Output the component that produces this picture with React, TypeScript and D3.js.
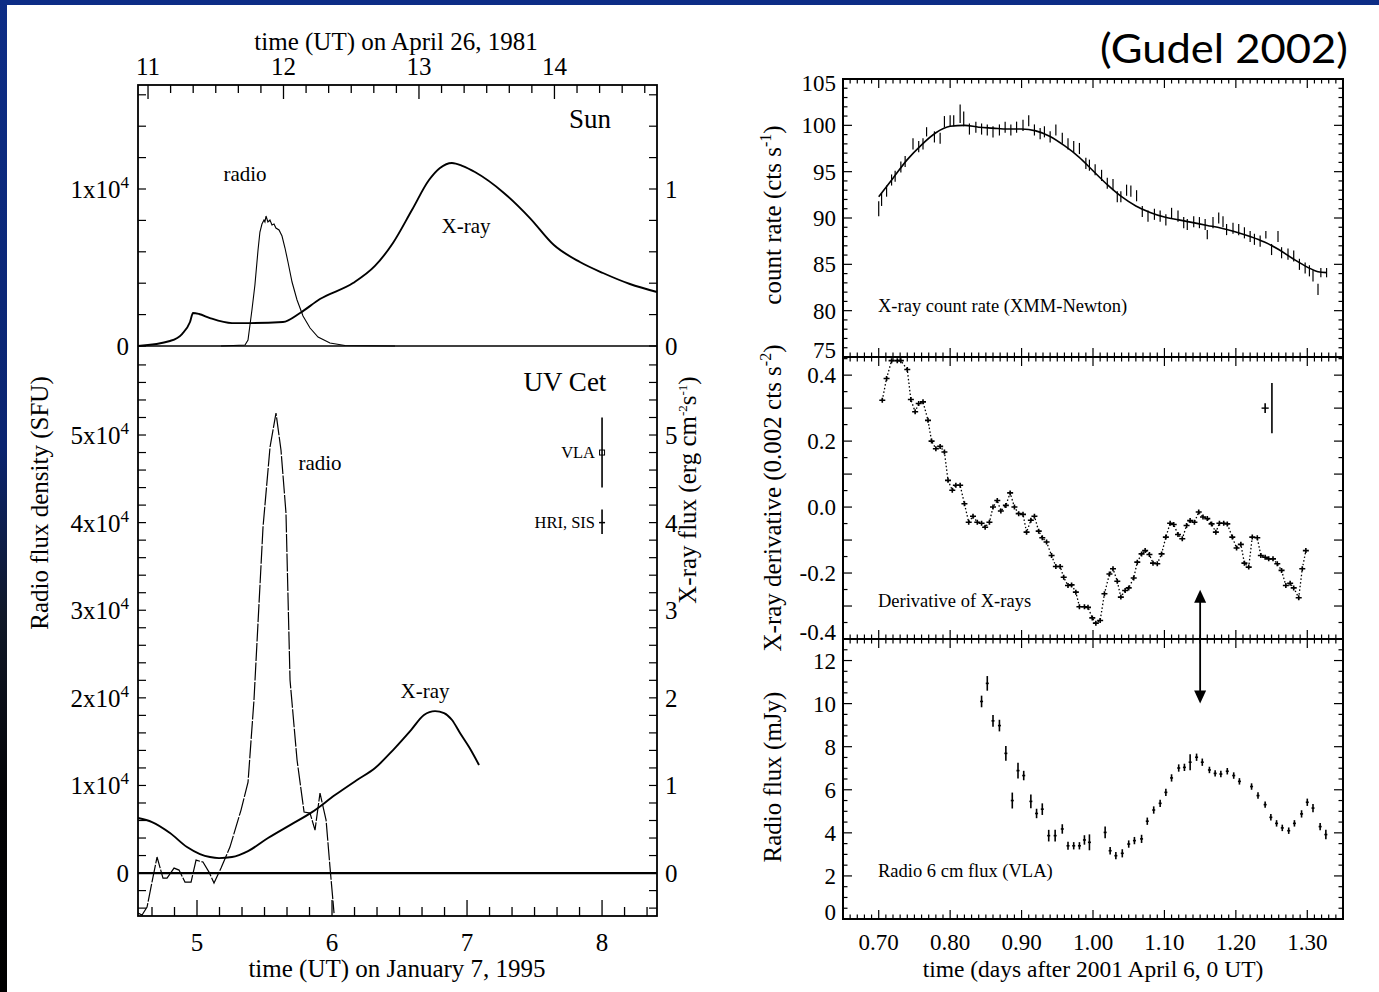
import React from 'react';
import * as d3 from 'd3';

// ================= LEFT CHART DATA =================
// Sun, April 26 1981 (hours UT, values)
const sunXray: [number, number][] = [
  [10.926, 0], [11.162, 0.032], [11.251, 0.076], [11.31, 0.153], [11.332, 0.21], [11.376, 0.204],
  [11.457, 0.178], [11.62, 0.146], [11.753, 0.146], [11.996, 0.153], [12.122, 0.21], [12.269, 0.299],
  [12.513, 0.401], [12.675, 0.51], [12.808, 0.656], [12.948, 0.866], [13.074, 1.057], [13.155, 1.134],
  [13.243, 1.166], [13.324, 1.146], [13.413, 1.108], [13.627, 0.975], [13.819, 0.815], [13.996, 0.643],
  [14.188, 0.535], [14.358, 0.465], [14.557, 0.395], [14.757, 0.344],
];
const sunRadio: [number, number][] = [
  [11.539, 0], [11.716, 64], [11.738, 382], [11.767, 2293], [11.789, 3885], [11.812, 6115], [11.826, 7261],
  [11.841, 7771], [11.856, 8025], [11.863, 7898], [11.871, 8280], [11.885, 7898], [11.9, 8025],
  [11.915, 7707], [11.93, 7771], [11.944, 7516], [11.967, 7389], [11.989, 7006], [12.011, 6242],
  [12.033, 5350], [12.063, 4076], [12.1, 2930], [12.144, 1911], [12.196, 1146], [12.255, 573],
  [12.343, 191], [12.454, 32], [12.823, 0],
];
// UV Cet, January 7 1995 (hours UT)
const uvXray: [number, number][] = [
  [4.563, 0.628], [4.667, 0.582], [4.8, 0.457], [4.926, 0.297], [5.022, 0.217], [5.096, 0.183],
  [5.163, 0.171], [5.259, 0.183], [5.378, 0.251], [5.526, 0.4], [5.689, 0.548], [5.852, 0.696],
  [6.022, 0.89], [6.185, 1.062], [6.319, 1.199], [6.452, 1.404], [6.585, 1.632], [6.681, 1.804],
  [6.763, 1.849], [6.83, 1.826], [6.889, 1.747], [6.948, 1.598], [7.015, 1.438], [7.089, 1.233],
];
const uvRadio: [number, number][] = [
  [4.563, -4570], [4.593, -4790], [4.63, -3880], [4.674, -460], [4.704, 1830], [4.748, -570],
  [4.778, -570], [4.83, 570], [4.867, 340], [4.911, -1030], [4.956, -1030], [4.993, 1480],
  [5.044, 1260], [5.089, 110], [5.126, -1140], [5.178, 570], [5.244, 2970], [5.326, 7190],
  [5.378, 10390], [5.422, 19750], [5.489, 39500], [5.541, 48630], [5.585, 52510], [5.622, 48290],
  [5.659, 41100], [5.689, 22030], [5.741, 12900], [5.793, 6960], [5.837, 6850], [5.874, 4910],
  [5.911, 9130], [5.956, 6050], [5.985, 680], [6.015, -4570],
];
const uvRefBars = [
  { label: 'VLA', t: 8.0, v: 4.8, lo: 4.4, hi: 5.2, square: true },
  { label: 'HRI, SIS', t: 8.0, v: 4.0, lo: 3.87, hi: 4.15, square: false },
];
const topHourLabels = [11, 12, 13, 14];
const bottomHourLabels = [5, 6, 7, 8];
const sunLeftLabels = [0, 1];
const uvLeftLabels = [0, 1, 2, 3, 4, 5];

// ================= RIGHT CHART DATA =================
// [time (days), count rate, error]
const countRate: [number, number, number][] = [
  [0.7, 91.0, 0.8], [0.704, 92.0, 0.7], [0.711, 92.9, 0.6], [0.718, 94.1, 0.6], [0.723, 94.5, 0.6],
  [0.731, 95.5, 0.6], [0.737, 96.1, 0.6], [0.748, 98.0, 0.6], [0.756, 97.7, 0.6], [0.762, 98.0, 0.6],
  [0.767, 99.3, 0.5], [0.778, 98.75, 0.6], [0.786, 98.6, 0.6], [0.792, 100.4, 0.6], [0.8, 100.5, 0.6],
  [0.805, 100.5, 0.6], [0.814, 101.25, 1.0], [0.819, 100.7, 0.8], [0.827, 99.6, 0.6], [0.836, 99.8, 0.6],
  [0.844, 99.6, 0.6], [0.852, 99.5, 0.6], [0.86, 99.3, 0.6], [0.869, 99.5, 0.6], [0.877, 99.8, 0.6],
  [0.885, 99.5, 0.6], [0.893, 99.8, 0.6], [0.902, 100.0, 0.6], [0.91, 100.5, 0.6], [0.918, 99.5, 0.6],
  [0.926, 99.1, 0.6], [0.932, 99.3, 0.6], [0.94, 98.75, 0.6], [0.948, 99.5, 0.6], [0.957, 98.6, 0.6],
  [0.965, 98.0, 0.6], [0.973, 97.7, 0.6], [0.981, 97.5, 0.6], [0.99, 95.9, 0.6], [0.995, 95.7, 0.6],
  [1.003, 95.2, 0.6], [1.012, 94.6, 0.6], [1.02, 93.75, 0.6], [1.028, 93.6, 0.6], [1.034, 92.3, 0.6],
  [1.039, 92.3, 0.6], [1.047, 93.0, 0.6], [1.053, 92.9, 0.6], [1.061, 92.4, 0.6], [1.069, 90.7, 0.6],
  [1.077, 90.2, 0.6], [1.086, 90.4, 0.6], [1.094, 90.2, 0.6], [1.102, 89.8, 0.6], [1.11, 90.5, 0.6],
  [1.119, 90.2, 0.6], [1.127, 89.5, 0.6], [1.132, 89.3, 0.6], [1.141, 89.6, 0.6], [1.149, 89.5, 0.6],
  [1.157, 89.3, 0.6], [1.16, 88.2, 0.5], [1.168, 89.5, 0.6], [1.176, 90.0, 0.6], [1.182, 89.6, 0.6],
  [1.187, 88.75, 0.6], [1.196, 88.9, 0.6], [1.204, 88.75, 0.6], [1.212, 88.4, 0.6], [1.22, 88.0, 0.6],
  [1.226, 87.7, 0.6], [1.234, 87.5, 0.6], [1.242, 88.2, 0.4], [1.25, 86.6, 0.6], [1.259, 88.0, 0.6],
  [1.264, 86.25, 0.6], [1.273, 86.1, 0.6], [1.281, 85.9, 0.6], [1.289, 85.0, 0.6], [1.297, 84.6, 0.6],
  [1.303, 84.3, 0.6], [1.308, 83.75, 0.6], [1.315, 82.3, 0.6], [1.319, 84.1, 0.5], [1.327, 84.1, 0.5],
];
const countModel: [number, number][] = [
  [0.7, 92.3], [0.72, 94.3], [0.74, 96.3], [0.76, 97.9], [0.78, 99.2], [0.8, 99.9], [0.82, 100.0],
  [0.84, 99.8], [0.86, 99.7], [0.88, 99.6], [0.9, 99.6], [0.92, 99.4], [0.94, 98.8], [0.96, 97.8],
  [0.98, 96.6], [1.0, 95.1], [1.02, 93.6], [1.04, 92.3], [1.06, 91.3], [1.08, 90.6], [1.1, 90.1],
  [1.12, 89.8], [1.14, 89.5], [1.16, 89.2], [1.18, 88.9], [1.2, 88.5], [1.22, 88.0], [1.24, 87.4],
  [1.26, 86.6], [1.28, 85.6], [1.3, 84.7], [1.315, 84.2], [1.327, 84.1],
];
const derivative: [number, number][] = [
  [0.705, 0.324], [0.711, 0.39], [0.718, 0.444], [0.726, 0.444], [0.731, 0.444], [0.74, 0.417],
  [0.745, 0.326], [0.751, 0.289], [0.756, 0.314], [0.762, 0.319], [0.769, 0.263], [0.774, 0.2],
  [0.78, 0.177], [0.786, 0.184], [0.792, 0.167], [0.797, 0.081], [0.803, 0.051], [0.808, 0.066],
  [0.814, 0.066], [0.82, 0.01], [0.826, -0.046], [0.832, -0.028], [0.838, -0.046], [0.844, -0.049],
  [0.849, -0.061], [0.855, -0.046], [0.86, 0.0], [0.866, 0.02], [0.871, -0.012], [0.878, 0.005],
  [0.884, 0.043], [0.89, 0.0], [0.896, -0.02], [0.902, -0.022], [0.907, -0.076], [0.913, -0.04],
  [0.918, -0.028], [0.924, -0.073], [0.929, -0.093], [0.935, -0.106], [0.942, -0.147], [0.948, -0.18],
  [0.954, -0.18], [0.959, -0.213], [0.965, -0.238], [0.97, -0.236], [0.976, -0.258], [0.981, -0.302],
  [0.988, -0.302], [0.993, -0.304], [0.999, -0.336], [1.004, -0.352], [1.01, -0.344], [1.016, -0.263],
  [1.023, -0.203], [1.028, -0.187], [1.034, -0.225], [1.039, -0.273], [1.045, -0.253], [1.05, -0.245],
  [1.057, -0.215], [1.062, -0.167], [1.068, -0.142], [1.073, -0.132], [1.079, -0.144], [1.084, -0.17],
  [1.09, -0.172], [1.096, -0.142], [1.102, -0.091], [1.108, -0.049], [1.113, -0.053], [1.119, -0.083],
  [1.125, -0.096], [1.131, -0.056], [1.136, -0.041], [1.142, -0.046], [1.148, -0.015], [1.154, -0.03],
  [1.16, -0.035], [1.166, -0.051], [1.172, -0.076], [1.177, -0.049], [1.183, -0.049], [1.188, -0.051],
  [1.195, -0.091], [1.201, -0.124], [1.207, -0.113], [1.212, -0.17], [1.218, -0.182], [1.223, -0.091],
  [1.23, -0.093], [1.235, -0.147], [1.241, -0.152], [1.246, -0.157], [1.252, -0.157], [1.258, -0.172],
  [1.264, -0.192], [1.27, -0.238], [1.276, -0.231], [1.281, -0.245], [1.288, -0.275], [1.293, -0.187],
  [1.298, -0.132],
];
// typical error bars shown in derivative panel: [t, v, dt, dv]
const derivErrRef: [number, number, number, number][] = [
  [1.241, 0.3, 0.005, 0.015],
  [1.2505, 0.3, 0.0, 0.076],
];
// [time, flux mJy, error]
const radioFlux: [number, number, number][] = [
  [0.844, 10.1, 0.2], [0.852, 10.94, 0.27], [0.86, 9.2, 0.2], [0.869, 8.98, 0.2], [0.878, 7.69, 0.27],
  [0.887, 5.5, 0.3], [0.895, 6.89, 0.3], [0.903, 6.66, 0.15], [0.913, 5.46, 0.25], [0.921, 4.9, 0.15],
  [0.929, 5.1, 0.2], [0.938, 3.87, 0.2], [0.947, 3.87, 0.2], [0.957, 4.18, 0.15], [0.965, 3.4, 0.12],
  [0.973, 3.4, 0.1], [0.981, 3.4, 0.1], [0.988, 3.67, 0.15], [0.995, 3.56, 0.3], [1.017, 4.02, 0.2],
  [1.024, 3.17, 0.1], [1.032, 2.94, 0.1], [1.041, 3.05, 0.12], [1.05, 3.48, 0.1], [1.058, 3.64, 0.1],
  [1.068, 3.72, 0.12], [1.076, 4.54, 0.1], [1.085, 5.06, 0.1], [1.094, 5.37, 0.1], [1.102, 5.88, 0.1],
  [1.11, 6.55, 0.1], [1.12, 7.01, 0.1], [1.128, 7.04, 0.1], [1.136, 7.28, 0.3], [1.145, 7.51, 0.1],
  [1.153, 7.28, 0.1], [1.163, 6.92, 0.08], [1.171, 6.76, 0.08], [1.179, 6.73, 0.08], [1.188, 6.86, 0.08],
  [1.197, 6.66, 0.08], [1.205, 6.39, 0.08], [1.222, 6.15, 0.08], [1.231, 5.73, 0.08], [1.241, 5.31, 0.08],
  [1.249, 4.72, 0.08], [1.257, 4.44, 0.08], [1.265, 4.23, 0.08], [1.274, 4.1, 0.08], [1.282, 4.44, 0.08],
  [1.292, 4.88, 0.1], [1.3, 5.42, 0.1], [1.308, 5.15, 0.12], [1.318, 4.29, 0.1], [1.326, 3.92, 0.15],
];
const arrowFrom = { t: 1.15, deriv: -0.251 };
const arrowTo = { t: 1.15, radio: 10.0 };
const rightXLabels = [0.7, 0.8, 0.9, 1.0, 1.1, 1.2, 1.3];
const countLabels = [75, 80, 85, 90, 95, 100, 105];
const derivLabels = [-0.4, -0.2, 0.0, 0.2, 0.4];
const radioLabels = [0, 2, 4, 6, 8, 10, 12];

const SERIF = "'Liberation Serif', 'Times New Roman', Times, serif";

// ---------- Left chart geometry ----------
const L = { x0: 138, x1: 657, yTop: 85, yMid: 346, yBot: 916 };
const xTop = d3.scaleLinear().domain([10.926, 14.757]).range([L.x0, L.x1]);
const xBot = d3.scaleLinear().domain([4.563, 8.407]).range([L.x0, L.x1]);
const ySunR = d3.scaleLinear().domain([0, 16624]).range([L.yMid, L.yTop]);
const ySunX = d3.scaleLinear().domain([0, 1.6624]).range([L.yMid, L.yTop]);
const yUVR = d3.scaleLinear().domain([-4900, 60160]).range([L.yBot, L.yMid]);
const yUVX = d3.scaleLinear().domain([-0.49, 6.016]).range([L.yBot, L.yMid]);

// ---------- Right chart geometry ----------
const R = { x0: 843, x1: 1343, a: 79, b: 357, c: 639, d: 919 };
const xR = d3.scaleLinear().domain([0.65, 1.35]).range([R.x0, R.x1]);
const y1 = d3.scaleLinear().domain([75, 105]).range([R.b, R.a]);
const y2 = d3.scaleLinear().domain([-0.4, 0.455]).range([R.c, R.b]);
const y3 = d3.scaleLinear().domain([0, 13]).range([R.d, R.c]);

function LeftChart() {
  const lineSunX = d3.line<[number, number]>().x(d => xTop(d[0])).y(d => ySunX(d[1])).curve(d3.curveMonotoneX);
  const lineSunR = d3.line<[number, number]>().x(d => xTop(d[0])).y(d => ySunR(d[1]));
  const lineUVX = d3.line<[number, number]>().x(d => xBot(d[0])).y(d => yUVX(d[1])).curve(d3.curveMonotoneX);
  const lineUVR = d3.line<[number, number]>().x(d => xBot(d[0])).y(d => yUVR(d[1]));

  const topTicks = d3.range(Math.ceil(10.926 * 6), Math.floor(14.757 * 6) + 1).map(i => i / 6);
  const botTicks = d3.range(Math.ceil(4.563 * 6), Math.floor(8.407 * 6) + 1).map(i => i / 6);
  const sunYTicks = d3.range(0, 9).map(i => i * 0.2);
  const uvYTicks = d3.range(-2, 30).map(i => i * 0.2);

  return (
    <g fontFamily={SERIF} fill="#000">
      <defs>
        <clipPath id="clipUV"><rect x={L.x0} y={L.yMid} width={L.x1 - L.x0} height={L.yBot - L.yMid} /></clipPath>
      </defs>
      {/* top axis */}
      {topTicks.map((t, i) => {
        const major = Math.abs(t - Math.round(t)) < 1e-6;
        const x = xTop(t);
        return <line key={'tt' + i} x1={x} x2={x} y1={L.yTop} y2={L.yTop + (major ? 14 : 8)} stroke="#000" strokeWidth={1.3} />;
      })}
      {topHourLabels.map(h => (
        <text key={'th' + h} x={xTop(h)} y={75} fontSize={25} textAnchor="middle">{h}</text>
      ))}
      <text x={396} y={50} fontSize={25} textAnchor="middle">time (UT) on April 26, 1981</text>
      {/* bottom axis */}
      {botTicks.map((t, i) => {
        const major = Math.abs(t - Math.round(t)) < 1e-6;
        const x = xBot(t);
        return <line key={'bt' + i} x1={x} x2={x} y1={L.yBot} y2={L.yBot - (major ? 16 : 9)} stroke="#000" strokeWidth={1.3} />;
      })}
      {bottomHourLabels.map(h => (
        <text key={'bh' + h} x={xBot(h)} y={951} fontSize={25} textAnchor="middle">{h}</text>
      ))}
      <text x={397} y={977} fontSize={25} textAnchor="middle">time (UT) on January 7, 1995</text>

      {/* y ticks */}
      {sunYTicks.map((v, i) => (
        <g key={'sy' + i}>
          <line x1={L.x0} x2={L.x0 + 8} y1={ySunX(v)} y2={ySunX(v)} stroke="#000" strokeWidth={1.2} />
          <line x1={L.x1} x2={L.x1 - 8} y1={ySunX(v)} y2={ySunX(v)} stroke="#000" strokeWidth={1.2} />
        </g>
      ))}
      {uvYTicks.map((v, i) => (
        <g key={'uy' + i}>
          <line x1={L.x0} x2={L.x0 + 8} y1={yUVX(v)} y2={yUVX(v)} stroke="#000" strokeWidth={1.2} />
          <line x1={L.x1} x2={L.x1 - 8} y1={yUVX(v)} y2={yUVX(v)} stroke="#000" strokeWidth={1.2} />
        </g>
      ))}
      {sunLeftLabels.map(v => (
        <g key={'sl' + v}>
          <text x={129} y={ySunX(v) + 9} fontSize={25} textAnchor="end">
            {v === 0 ? '0' : <>{v}x10<tspan dy={-10} fontSize={17}>4</tspan></>}
          </text>
          <text x={665} y={ySunX(v) + 9} fontSize={25}>{v}</text>
        </g>
      ))}
      {uvLeftLabels.map(v => (
        <g key={'ul' + v}>
          <text x={129} y={yUVX(v) + 9} fontSize={25} textAnchor="end">
            {v === 0 ? '0' : <>{v}x10<tspan dy={-10} fontSize={17}>4</tspan></>}
          </text>
          <text x={665} y={yUVX(v) + 9} fontSize={25}>{v}</text>
        </g>
      ))}
      <text transform={`translate(48,503) rotate(-90)`} fontSize={25} textAnchor="middle">Radio flux density (SFU)</text>
      <text transform={`translate(696,490) rotate(-90)`} fontSize={25} textAnchor="middle">
        X-ray flux (erg cm<tspan dy={-9} fontSize={13}>-2</tspan><tspan dy={9}>s</tspan><tspan dy={-9} fontSize={13}>-1</tspan><tspan dy={9}>)</tspan>
      </text>

      {/* Sun curves */}
      <path d={lineSunX(sunXray) || ''} fill="none" stroke="#000" strokeWidth={1.9} />
      <path d={lineSunR(sunRadio) || ''} fill="none" stroke="#000" strokeWidth={1.1} />
      {/* UV Cet curves */}
      <g clipPath="url(#clipUV)">
        <line x1={L.x0} x2={L.x1} y1={yUVX(0)} y2={yUVX(0)} stroke="#000" strokeWidth={2.2} />
        <path d={lineUVX(uvXray) || ''} fill="none" stroke="#000" strokeWidth={1.9} />
        <path d={lineUVR(uvRadio) || ''} fill="none" stroke="#000" strokeWidth={1.2} strokeDasharray="18 1.5" />
      </g>
      {uvRefBars.map(b => (
        <g key={b.label}>
          <line x1={xBot(b.t)} x2={xBot(b.t)} y1={yUVX(b.lo)} y2={yUVX(b.hi)} stroke="#000" strokeWidth={1.6} />
          {b.square
            ? <rect x={xBot(b.t) - 2.5} y={yUVX(b.v) - 2.5} width={5} height={5} fill="none" stroke="#000" strokeWidth={1} />
            : <line x1={xBot(b.t) - 3} x2={xBot(b.t) + 3} y1={yUVX(b.v)} y2={yUVX(b.v)} stroke="#000" strokeWidth={1.5} />}
          <text x={xBot(b.t) - 7} y={yUVX(b.v) + 5} fontSize={16.5} textAnchor="end">{b.label}</text>
        </g>
      ))}

      {/* annotations */}
      <text x={590} y={128} fontSize={27} textAnchor="middle">Sun</text>
      <text x={565} y={391} fontSize={27} textAnchor="middle">UV Cet</text>
      <text x={245} y={181} fontSize={21} textAnchor="middle">radio</text>
      <text x={466} y={233} fontSize={21} textAnchor="middle">X-ray</text>
      <text x={320} y={470} fontSize={21} textAnchor="middle">radio</text>
      <text x={425} y={698} fontSize={21} textAnchor="middle">X-ray</text>

      {/* frame */}
      <rect x={L.x0} y={L.yTop} width={L.x1 - L.x0} height={L.yBot - L.yTop} fill="none" stroke="#000" strokeWidth={1.8} />
      <line x1={L.x0} x2={L.x1} y1={L.yMid} y2={L.yMid} stroke="#000" strokeWidth={1.6} />
    </g>
  );
}

function RightChart() {
  const xTicks = d3.range(65, 136).map(i => i / 100);
  const modelLine = d3.line<[number, number]>().x(d => xR(d[0])).y(d => y1(d[1])).curve(d3.curveMonotoneX);
  const derivLine = d3.line<[number, number]>().x(d => xR(d[0])).y(d => y2(d[1]));
  const ax = xR(arrowFrom.t);
  const aTop = y2(arrowFrom.deriv);
  const aBot = y3(arrowTo.radio);

  const xTickLines = (y: number, dir: number, key: string) =>
    xTicks.map((t, i) => {
      const major = i % 10 === 5;
      const x = xR(t);
      return <line key={key + i} x1={x} x2={x} y1={y} y2={y + dir * (major ? 9 : 4.5)} stroke="#000" strokeWidth={1.2} />;
    });

  const yTickLines = (vals: number[], scale: d3.ScaleLinear<number, number>, isMajor: (v: number) => boolean, key: string) =>
    vals.map((v, i) => {
      const y = scale(v);
      const len = isMajor(v) ? 9 : 4.5;
      return (
        <g key={key + i}>
          <line x1={R.x0} x2={R.x0 + len} y1={y} y2={y} stroke="#000" strokeWidth={1.2} />
          <line x1={R.x1} x2={R.x1 - len} y1={y} y2={y} stroke="#000" strokeWidth={1.2} />
        </g>
      );
    });

  const p1Ticks = d3.range(76, 105).map(v => v);
  const p2Ticks = d3.range(-7, 10).map(i => i * 0.05);
  const p3Ticks = d3.range(1, 26).map(i => i * 0.5);

  // labels at the edges of a panel sit inside the panel's range
  const edgeShift = (y: number, lo: number, hi: number) => (Math.abs(y - hi) < 2 ? -7 : Math.abs(y - lo) < 2 ? 4 : 0);

  return (
    <g fontFamily={SERIF} fill="#000">
      {/* x ticks */}
      {xTickLines(R.a, 1, 'xa')}
      {xTickLines(R.b, -1, 'xb1')}
      {xTickLines(R.b, 1, 'xb2')}
      {xTickLines(R.c, -1, 'xc1')}
      {xTickLines(R.c, 1, 'xc2')}
      {xTickLines(R.d, -1, 'xd')}
      {/* y ticks */}
      {yTickLines(p1Ticks, y1, v => v % 5 === 0, 'p1')}
      {yTickLines(p2Ticks, y2, v => Math.abs(v * 10 - Math.round(v * 10)) < 1e-6, 'p2')}
      {yTickLines(p3Ticks, y3, v => v % 2 === 0, 'p3')}

      {/* tick labels */}
      {countLabels.map(v => (
        <text key={'cl' + v} x={836} y={y1(v) + 8 + edgeShift(y1(v), R.a, R.b)} fontSize={23} textAnchor="end">{v}</text>
      ))}
      {derivLabels.map(v => (
        <text key={'dl' + v} x={836} y={y2(v) + 8 + edgeShift(y2(v), R.b, R.c)} fontSize={23} textAnchor="end">{v.toFixed(1)}</text>
      ))}
      {radioLabels.map(v => (
        <text key={'rl' + v} x={836} y={y3(v) + 8 + edgeShift(y3(v), R.c, R.d)} fontSize={23} textAnchor="end">{v}</text>
      ))}
      {rightXLabels.map(v => (
        <text key={'xl' + v} x={xR(v)} y={950} fontSize={23} textAnchor="middle">{v.toFixed(2)}</text>
      ))}
      <text x={1093} y={977} fontSize={23.5} textAnchor="middle">time (days after 2001 April 6, 0 UT)</text>

      {/* y labels */}
      <text transform="translate(781,215) rotate(-90)" fontSize={25} textAnchor="middle">
        count rate (cts s<tspan dy={-10} fontSize={16}>-1</tspan><tspan dy={10}>)</tspan>
      </text>
      <text transform="translate(781,498) rotate(-90)" fontSize={25} textAnchor="middle">
        X-ray derivative (0.002 cts s<tspan dy={-10} fontSize={16}>-2</tspan><tspan dy={10}>)</tspan>
      </text>
      <text transform="translate(781,777) rotate(-90)" fontSize={25} textAnchor="middle">Radio flux (mJy)</text>

      {/* panel 1 */}
      {countRate.map((d, i) => (
        <line key={'cr' + i} x1={xR(d[0])} x2={xR(d[0])} y1={y1(d[1] - d[2])} y2={y1(d[1] + d[2])} stroke="#000" strokeWidth={1.2} />
      ))}
      <path d={modelLine(countModel) || ''} fill="none" stroke="#000" strokeWidth={1.6} />
      <text x={878} y={312} fontSize={18.5}>X-ray count rate (XMM-Newton)</text>

      {/* panel 2 */}
      <path d={derivLine(derivative) || ''} fill="none" stroke="#000" strokeWidth={1.3} strokeDasharray="1.5 2.2" />
      {derivative.map((d, i) => {
        const x = xR(d[0]);
        const y = y2(d[1]);
        return <path key={'dv' + i} d={`M${x - 3},${y}H${x + 3}M${x},${y - 2.5}V${y + 2.5}`} stroke="#000" strokeWidth={1.6} />;
      })}
      {derivErrRef.map((d, i) => (
        <g key={'de' + i}>
          <line x1={xR(d[0])} x2={xR(d[0])} y1={y2(d[1] - d[3])} y2={y2(d[1] + d[3])} stroke="#000" strokeWidth={1.6} />
          {d[2] > 0 && <line x1={xR(d[0] - d[2])} x2={xR(d[0] + d[2])} y1={y2(d[1])} y2={y2(d[1])} stroke="#000" strokeWidth={1.4} />}
        </g>
      ))}
      <text x={878} y={607} fontSize={18.5}>Derivative of X-rays</text>

      {/* panel 3 */}
      {radioFlux.map((d, i) => {
        const x = xR(d[0]);
        return (
          <g key={'rf' + i}>
            <line x1={x} x2={x} y1={y3(d[1] - d[2]) + 1.5} y2={y3(d[1] + d[2]) - 1.5} stroke="#000" strokeWidth={1.6} />
            <line x1={x - 1.5} x2={x + 1.5} y1={y3(d[1])} y2={y3(d[1])} stroke="#000" strokeWidth={1.6} />
          </g>
        );
      })}
      <text x={878} y={877} fontSize={18.5}>Radio 6 cm flux (VLA)</text>

      {/* arrow */}
      <line x1={ax} x2={ax} y1={aTop + 12} y2={aBot - 12} stroke="#000" strokeWidth={1.8} />
      <path d={`M${ax},${aTop}L${ax - 6},${aTop + 13}L${ax + 6},${aTop + 13}Z`} fill="#000" />
      <path d={`M${ax},${aBot}L${ax - 6},${aBot - 13}L${ax + 6},${aBot - 13}Z`} fill="#000" />

      {/* frame */}
      <rect x={R.x0} y={R.a} width={R.x1 - R.x0} height={R.d - R.a} fill="none" stroke="#000" strokeWidth={2} />
      <line x1={R.x0} x2={R.x1} y1={R.b} y2={R.b} stroke="#000" strokeWidth={2} />
      <line x1={R.x0} x2={R.x1} y1={R.c} y2={R.c} stroke="#000" strokeWidth={2} />
    </g>
  );
}

export default function App() {
  return (
    <svg width={1379} height={992} style={{ position: 'absolute', left: 0, top: 0, display: 'block' }}>
      <defs>
        <linearGradient id="bg" x1="0" y1="0" x2="0" y2="1">
          <stop offset="0" stopColor="#0d2d86" />
          <stop offset="0.45" stopColor="#0a2470" />
          <stop offset="0.62" stopColor="#101828" />
          <stop offset="0.8" stopColor="#030306" />
          <stop offset="1" stopColor="#000" />
        </linearGradient>
      </defs>
      <rect x={0} y={0} width={1379} height={992} fill="url(#bg)" />
      <rect x={7} y={5} width={1372} height={987} fill="#fff" />
      <LeftChart />
      <RightChart />
      <text x={1100} y={63} fontFamily="Lato, 'Open Sans', sans-serif" fontSize={40} textLength={248} lengthAdjust="spacingAndGlyphs">(Gudel 2002)</text>
    </svg>
  );
}
